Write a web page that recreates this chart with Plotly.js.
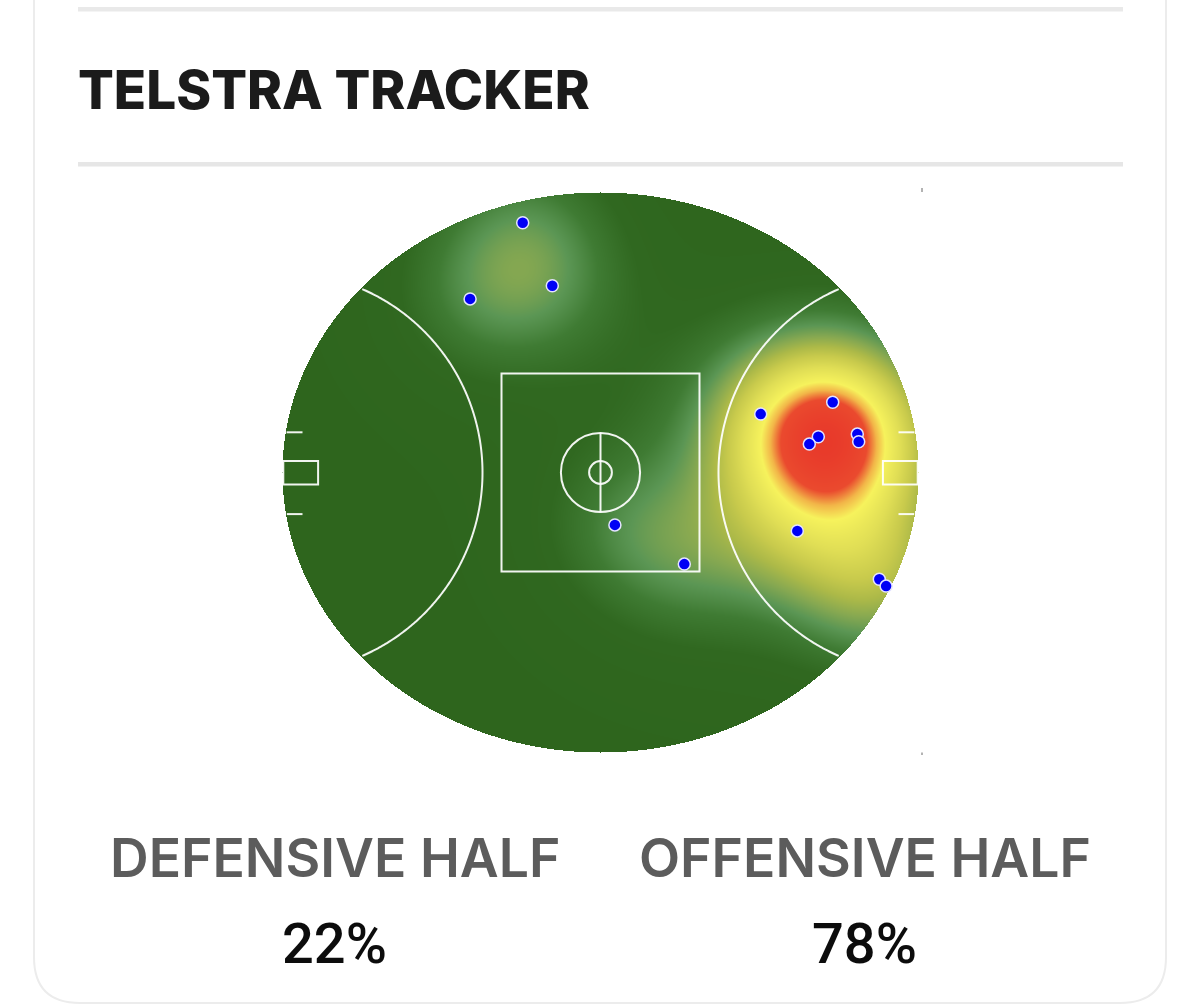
<!DOCTYPE html>
<html>
<head>
<meta charset="utf-8">
<script src="https://cdn.plot.ly/plotly-3.0.1.min.js"></script>
<style>
  html, body { margin: 0; padding: 0; background: #ffffff; }
  #chart { width: 1200px; height: 1005px; }
</style>
</head>
<body>
<div id="chart"></div>
<script>
// ---------- data (field metres, origin at centre of the ground) ----------
const possessionX = [-19.45, -12.05, -32.6, 40.05, 58.05, 54.45, 52.2, 64.2, 64.55, 3.6, 20.95, 49.2, 69.7, 71.4];
const possessionY = [62.45, 46.7, 43.4, 14.6, 17.55, 8.95, 7.1, 9.6, 7.7, -13.1, -22.9, -14.6, -26.7, -28.4];
const halfLabels = ['DEFENSIVE HALF', 'OFFENSIVE HALF'];
const halfShares = [22, 78];
const chartTitle = 'TELSTRA TRACKER';

// ---------- page / field geometry ----------
const W = 1200, H = 1005;
const PXM = 4;                 // pixels per metre
const CX = 600.5, CY = 472.5;  // pixel position of ground centre
const A = 79.5, B = 70;        // oval half-length / half-width (m)
const px = p => p / W;
const py = p => 1 - p / H;

// ---------- density heat surface from the possession points ----------
const STEP = 0.25, SIG_N = 15, SIG_B = 25, WN = 0.62, WB = 0.38;
const gx = [], gy = [];
for (let x = -A; x <= A + 1e-9; x += STEP) gx.push(+x.toFixed(3));
for (let y = -B; y <= B + 1e-9; y += STEP) gy.push(+y.toFixed(3));
const nArr = [], bArr = [];
let peakN = 0, peakB = 0;
for (let j = 0; j < gy.length; j++) {
  const rn = [], rb = [];
  for (let i = 0; i < gx.length; i++) {
    const x = gx[i], y = gy[j];
    if ((x * x) / (A * A) + (y * y) / (B * B) > 1) { rn.push(null); rb.push(null); continue; }
    let dn = 0, db = 0;
    for (let k = 0; k < possessionX.length; k++) {
      const dx = x - possessionX[k], dy = y - possessionY[k];
      const d2 = dx * dx + dy * dy;
      dn += Math.exp(-d2 / (2 * SIG_N * SIG_N));
      db += Math.exp(-d2 / (2 * SIG_B * SIG_B));
    }
    if (dn > peakN) peakN = dn;
    if (db > peakB) peakB = db;
    rn.push(dn); rb.push(db);
  }
  nArr.push(rn); bArr.push(rb);
}
const zNorm = nArr.map((r, j) => r.map((v, i) => v === null ? null : WN * v / peakN + WB * bArr[j][i] / peakB));

const heatScale = [
  [0.00, '#2e651d'],
  [0.15, '#306820'],
  [0.25, '#3f7b33'],
  [0.33, '#5b9654'],
  [0.40, '#86a851'],
  [0.47, '#acb948'],
  [0.54, '#c8ca4c'],
  [0.63, '#e0de55'],
  [0.74, '#f6f25c'],
  [0.80, '#f2b548'],
  [0.86, '#ea4a2e'],
  [1.00, '#e8392a']
];

// ---------- field markings ----------
const LINE = { color: 'rgba(255,255,255,0.93)', width: 2 };
function arcPath(side) {
  const pts = [];
  const gcx = side * A;
  for (let t = -90; t <= 90; t += 0.5) {
    const th = t * Math.PI / 180;
    const x = gcx - side * 50 * Math.cos(th);
    const y = 50 * Math.sin(th);
    if ((x * x) / (A * A) + (y * y) / (B * B) <= 1) pts.push([x, y]);
  }
  return 'M' + pts.map(p => p[0].toFixed(3) + ',' + p[1].toFixed(3)).join(' L');
}
function ellX(y) { return A * Math.sqrt(1 - (y * y) / (B * B)); }

const shapes = [];
shapes.push({ type: 'rect', xref: 'x', yref: 'y', x0: -24.75, x1: 24.75, y0: -24.75, y1: 24.75, line: LINE, layer: 'above' });
shapes.push({ type: 'circle', xref: 'x', yref: 'y', x0: -9.9, x1: 9.9, y0: -9.9, y1: 9.9, line: LINE, layer: 'above' });
shapes.push({ type: 'circle', xref: 'x', yref: 'y', x0: -2.85, x1: 2.85, y0: -2.85, y1: 2.85, line: LINE, layer: 'above' });
shapes.push({ type: 'line', xref: 'x', yref: 'y', x0: 0, x1: 0, y0: -9.9, y1: 9.9, line: LINE, layer: 'above' });
[-1, 1].forEach(s => {
  shapes.push({ type: 'path', xref: 'x', yref: 'y', path: arcPath(s), line: LINE, layer: 'above' });
  shapes.push({ type: 'rect', xref: 'x', yref: 'y', x0: s * 79.3, x1: s * 70.6, y0: -3.0, y1: 2.9, line: LINE, layer: 'above' });
  [10.05, -10.4].forEach(yy => {
    shapes.push({ type: 'line', xref: 'x', yref: 'y', x0: s * (ellX(yy) - 0.2), x1: s * 74.5, y0: yy, y1: yy, line: LINE, layer: 'above' });
  });
});

// card frame & separators (page pixels -> paper)
const R = 46, L0 = 34, R0 = 1166, BOT = 1003;
shapes.push({
  type: 'path', xref: 'paper', yref: 'paper', layer: 'below',
  path: `M${px(L0)},${py(-5)} L${px(L0)},${py(BOT - R)} Q${px(L0)},${py(BOT)} ${px(L0 + R)},${py(BOT)} L${px(R0 - R)},${py(BOT)} Q${px(R0)},${py(BOT)} ${px(R0)},${py(BOT - R)} L${px(R0)},${py(-5)}`,
  line: { color: '#ececec', width: 2 }
});
shapes.push({ type: 'rect', xref: 'paper', yref: 'paper', x0: px(78), x1: px(1123), y0: py(11.5), y1: py(7), fillcolor: '#e9e9e9', line: { width: 0 }, layer: 'below' });
shapes.push({ type: 'rect', xref: 'paper', yref: 'paper', x0: px(78), x1: px(1123), y0: py(166.5), y1: py(162), fillcolor: '#e6e6e6', line: { width: 0 }, layer: 'below' });
shapes.push({ type: 'line', xref: 'paper', yref: 'paper', x0: px(922), x1: px(922), y0: py(188), y1: py(192), line: { color: '#9a9a9a', width: 1.5 } });
shapes.push({ type: 'line', xref: 'paper', yref: 'paper', x0: px(922), x1: px(922), y0: py(752.5), y1: py(755), line: { color: '#9a9a9a', width: 1.5 } });

// ---------- traces ----------
const heat = {
  type: 'heatmap', x: gx, y: gy, z: zNorm, zmin: 0, zmax: 1,
  colorscale: heatScale, showscale: false, zsmooth: false, hoverinfo: 'skip'
};
const dots = {
  type: 'scatter', mode: 'markers', x: possessionX, y: possessionY,
  marker: { color: '#0000f5', size: 12, line: { color: '#e4e4ff', width: 1.5 } },
  hoverinfo: 'skip', cliponaxis: false
};

// ---------- texts ----------
const FONT = 'Inter, Roboto, "Liberation Sans", sans-serif';
const NUMFONT = 'Roboto, Inter, "Liberation Sans", sans-serif';
const annotations = [
  { text: chartTitle, xref: 'paper', yref: 'paper', x: px(76), y: py(90), xanchor: 'left', yanchor: 'middle', showarrow: false,
    font: { family: FONT, size: 53, color: '#1b1b1b', weight: 800 } }
];
const centres = [334.5, 864.5];
halfLabels.forEach((lab, i) => {
  annotations.push({ text: lab, xref: 'paper', yref: 'paper', x: px(centres[i]), y: py(857), xanchor: 'center', yanchor: 'middle', showarrow: false,
    font: { family: FONT, size: 53.5, color: '#5c5c5c', weight: 600 } });
  annotations.push({ text: halfShares[i] + '%', xref: 'paper', yref: 'paper', x: px(centres[i] - 0.5), y: py(944), xanchor: 'center', yanchor: 'middle', showarrow: false,
    font: { family: NUMFONT, size: 56, color: '#0c0c0c', weight: 500 } });
});

const layout = {
  width: W, height: H,
  margin: { l: 0, r: 0, t: 0, b: 0 },
  paper_bgcolor: '#ffffff', plot_bgcolor: 'rgba(0,0,0,0)',
  showlegend: false,
  xaxis: { range: [-CX / PXM, (W - CX) / PXM], visible: false, fixedrange: true },
  yaxis: { range: [(CY - H) / PXM, CY / PXM], visible: false, fixedrange: true },
  shapes: shapes,
  annotations: annotations
};

Plotly.newPlot('chart', [heat, dots], layout, { staticPlot: true, displayModeBar: false });
</script>
</body>
</html>
